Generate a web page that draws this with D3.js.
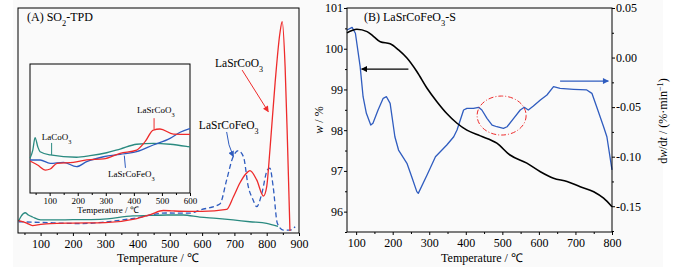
<!DOCTYPE html>
<html>
<head>
<meta charset="utf-8">
<script src="https://cdn.jsdelivr.net/npm/d3@7"></script>
<style>
  body { margin: 0; background: #fff; }
  svg { display: block; font-family: "Liberation Serif", "Times New Roman", serif; }
</style>
</head>
<body>
<svg id="chart" width="684" height="274"></svg>
<script>
// ---- (A) SO2-TPD, main plot (intensity in arbitrary units) ----
const tempRed = [32,57,75,100,130,200,300,390,440,480,510,560,600,676,697,717,735,748,769,790,800,810,826,841,848,857,865,872];
const intRed  = [5.5,4.4,3.3,3.8,4.2,4.4,4.6,6.2,8.2,10.0,9.8,9.6,9.6,10.5,16.1,22.2,26.2,27.7,23.6,16.4,20.6,36.9,66.7,88.9,93.9,73.9,36.9,0.9];

const tempBlue = [32,100,230,300,388,490,563,593,655,676,696,712,728,743,758,769,785,802,810,820,833,851,872,888];
const intBlue  = [5.0,4.7,4.2,4.9,6.5,8.9,8.8,10.2,12.9,23.6,33.9,36.6,33.9,20.6,14.7,11.7,17.6,28.0,28.8,20.6,4.3,1.3,1.3,2.8];

const tempTeal = [32,40,52,62,75,100,200,284,386,439,490,541,593,645,696,748,800,835];
const intTeal  = [5.3,7.5,9.0,8.0,7.1,5.8,5.9,6.1,7.6,7.8,8.0,8.0,7.1,6.5,5.8,5.0,4.3,2.9];

// ---- (A) inset, 30-600 C ----
const inTempTeal = [30,40,48,58,66,102,196,244,303,351,410,469,529,594,600];
const inIntTeal  = [26.9,33.3,42.9,35.7,32.0,29.5,27.7,28.9,31.2,34.1,37.8,38.5,37.8,35.9,35.7];
const inTempRed = [30,57,85,102,126,185,232,292,351,410,440,469,493,541,594,600];
const inIntRed  = [24.8,21.7,17.8,18.6,23.0,23.8,25.6,26.4,30.8,33.3,39.8,48.8,49.6,45.7,45.5,45.5];
const inTempBlue = [30,66,102,149,196,232,292,351,410,469,529,565,594,600];
const inIntBlue  = [25.6,25.6,23.0,23.8,20.4,24.3,28.1,30.0,32.0,37.2,42.4,47.1,49.6,50.0];

// ---- (B) LaSrCoFeO3-S TG / DTG ----
const tgTemp = [75,102,130,148,166,193,216,239,266,294,321,348,376,403,440,485,521,567,604,640,677,713,750,777,800];
const tgMass = [100.39,100.48,100.42,100.30,100.17,100.12,99.97,99.77,99.44,99.03,98.70,98.41,98.17,98.00,97.86,97.68,97.39,97.19,96.98,96.82,96.74,96.61,96.49,96.33,96.12];

const dtgTemp = [75,89,98,111,119,128,140,146,160,174,183,193,206,216,239,252,266,270,294,317,348,367,376,385,394,403,421,435,444,458,472,485,503,513,531,549,560,571,585,604,622,640,658,695,731,745,758,777,786,800];
const dtgRate = [0.0278,0.0305,0.0245,-0.0092,-0.0395,-0.0562,-0.0681,-0.0663,-0.0529,-0.0411,-0.0395,-0.0462,-0.0799,-0.0933,-0.1067,-0.1202,-0.1353,-0.1370,-0.1185,-0.1000,-0.0882,-0.0799,-0.0731,-0.0630,-0.0529,-0.0512,-0.0512,-0.0502,-0.0529,-0.0613,-0.0681,-0.0698,-0.0714,-0.0698,-0.0613,-0.0529,-0.0502,-0.0529,-0.0489,-0.0428,-0.0378,-0.0294,-0.0310,-0.0320,-0.0327,-0.0361,-0.0496,-0.0698,-0.0799,-0.1134];

// tick labels
const ticksA = [100,200,300,400,500,600,700,800,900];
const ticksInset = [100,200,300,400,500,600];
const ticksB = [100,200,300,400,500,600,700,800];
const ticksMass = [96,97,98,99,100,101];
const ticksRate = [-0.15,-0.10,-0.05,0.00,0.05];

const RED = "#ee2b2b", BLUE = "#2f5cbf", TEAL = "#2a8a80";

const svg = d3.select("#chart");
svg.append("rect").attr("x", 13).attr("y", 0).attr("width", 650).attr("height", 267).attr("fill", "#fafafa");

// arrow markers
const defs = svg.append("defs");
[["red", RED], ["blue", BLUE], ["black", "#000"]].forEach(([k, c]) => {
  defs.append("marker").attr("id", "arr-" + k)
    .attr("viewBox", "0 0 10 10").attr("refX", 9).attr("refY", 5)
    .attr("markerWidth", 7).attr("markerHeight", 6).attr("markerUnits", "userSpaceOnUse")
    .attr("orient", "auto")
    .append("path").attr("d", "M0,0L10,5L0,10z").attr("fill", c);
});

function rich(sel, parts) {
  parts.forEach(p => {
    const t = sel.append("tspan").text(p[0]);
    if (p[1] === "sub") t.attr("baseline-shift", "sub").attr("font-size", "70%");
    if (p[1] === "sup") t.attr("baseline-shift", "super").attr("font-size", "70%");
    if (p[1] === "i") t.attr("font-style", "italic");
  });
  return sel;
}

function series(g, xs, ys, T, V, color, dash, curve) {
  const line = d3.line().x(d => xs(d[0])).y(d => ys(d[1])).curve(curve || d3.curveMonotoneX);
  g.append("path").datum(d3.zip(T, V)).attr("d", line)
    .attr("fill", "none").attr("stroke", color).attr("stroke-width", 1.3)
    .attr("stroke-dasharray", dash || null).attr("stroke-linejoin", "round");
}

function xAxis(g, scale, y, major, minor, fs, pad) {
  const a = g.append("g").attr("transform", `translate(0,${y})`)
    .call(d3.axisBottom(scale).tickValues(major).tickSize(3).tickPadding(pad).tickFormat(d3.format("d")));
  a.select(".domain").remove();
  a.selectAll("text").attr("font-size", fs).attr("font-family", "Liberation Serif").attr("fill", "#000");
  const m = g.append("g").attr("transform", `translate(0,${y})`)
    .call(d3.axisBottom(scale).tickValues(minor).tickSize(2).tickFormat(""));
  m.select(".domain").remove();
}

// ================= Panel A =================
const xA = d3.scaleLinear().domain([30, 900]).range([18, 299]);
const yA = d3.scaleLinear().domain([0, 100]).range([233, 8]);
const gA = svg.append("g");

series(gA, xA, yA, tempTeal, intTeal, TEAL);
series(gA, xA, yA, tempBlue, intBlue, BLUE, "5,3");
series(gA, xA, yA, tempRed, intRed, RED);

gA.append("rect").attr("x", 18).attr("y", 8).attr("width", 281).attr("height", 225)
  .attr("fill", "none").attr("stroke", "#000").attr("stroke-width", 1);
xAxis(gA, xA, 233, ticksA, d3.range(50, 900, 100), 12, 3);
gA.append("text").attr("x", 158).attr("y", 262).attr("text-anchor", "middle").attr("font-size", 12)
  .text("Temperature / \u2103");
rich(gA.append("text").attr("x", 27).attr("y", 21).attr("font-size", 12),
  [["(A) SO"], ["2", "sub"], ["-TPD"]]);

// labels + arrows
rich(gA.append("text").attr("x", xA(640)).attr("y", yA(73.8)).attr("font-size", 11.5),
  [["LaSrCoO"], ["3", "sub"]]);
gA.append("line").attr("x1", xA(724)).attr("y1", yA(72.4)).attr("x2", xA(805)).attr("y2", yA(53.9))
  .attr("stroke", RED).attr("stroke-width", 1).attr("marker-end", "url(#arr-red)");
rich(gA.append("text").attr("x", xA(590)).attr("y", yA(46.2)).attr("font-size", 11.5),
  [["LaSrCoFeO"], ["3", "sub"]]);
gA.append("path")
  .attr("d", `M${xA(676)},${yA(44.9)}Q${xA(680)},${yA(39)} ${xA(697)},${yA(33.9)}`)
  .attr("fill", "none").attr("stroke", BLUE).attr("stroke-width", 1).attr("marker-end", "url(#arr-blue)");

// ---- inset ----
const xI = d3.scaleLinear().domain([30, 600]).range([30, 190]);
const yI = d3.scaleLinear().domain([0, 100]).range([193, 64]);
const gI = svg.append("g");
gI.append("rect").attr("x", 30).attr("y", 64).attr("width", 160).attr("height", 129)
  .attr("fill", "#fafafa").attr("stroke", "#000").attr("stroke-width", 1);
series(gI, xI, yI, inTempTeal, inIntTeal, TEAL);
series(gI, xI, yI, inTempBlue, inIntBlue, BLUE);
series(gI, xI, yI, inTempRed, inIntRed, RED);
xAxis(gI, xI, 193, ticksInset, d3.range(50, 600, 100), 9, 2);
gI.append("text").attr("x", 108).attr("y", 213).attr("text-anchor", "middle").attr("font-size", 9)
  .text("Temperature / \u2103");

rich(gI.append("text").attr("x", xI(411)).attr("y", yI(62)).attr("font-size", 9), [["LaSrCoO"], ["3", "sub"]]);
gI.append("line").attr("x1", xI(472)).attr("x2", xI(472)).attr("y1", yI(58)).attr("y2", yI(49.6))
  .attr("stroke", RED).attr("stroke-width", 1);
rich(gI.append("text").attr("x", xI(72)).attr("y", yI(41)).attr("font-size", 9), [["LaCoO"], ["3", "sub"]]);
gI.append("line").attr("x1", xI(107)).attr("x2", xI(107)).attr("y1", yI(38.8)).attr("y2", yI(29.5))
  .attr("stroke", TEAL).attr("stroke-width", 1);
rich(gI.append("text").attr("x", xI(308)).attr("y", yI(12.4)).attr("font-size", 9), [["LaSrCoFeO"], ["3", "sub"]]);
gI.append("line").attr("x1", xI(366)).attr("x2", xI(370)).attr("y1", yI(29)).attr("y2", yI(19.5))
  .attr("stroke", BLUE).attr("stroke-width", 1);

// ================= Panel B =================
const xB = d3.scaleLinear().domain([75, 800]).range([347, 612]);
const yL = d3.scaleLinear().domain([95.5, 101]).range([232, 8]);
const yR = d3.scaleLinear().domain([-0.176, 0.05]).range([232, 8]);
const gB = svg.append("g");

series(gB, xB, yR, dtgTemp, dtgRate, BLUE, null, d3.curveLinear);
series(gB, xB, yL, tgTemp, tgMass, "#000");
gB.select("path:last-of-type").attr("stroke-width", 1.6);

gB.append("rect").attr("x", 347).attr("y", 8).attr("width", 265).attr("height", 224)
  .attr("fill", "none").attr("stroke", "#000").attr("stroke-width", 1);
xAxis(gB, xB, 232, ticksB, d3.range(150, 800, 100), 12, 3);
gB.append("text").attr("x", 482).attr("y", 262).attr("text-anchor", "middle").attr("font-size", 12)
  .text("Temperature / \u2103");

const aL = gB.append("g").attr("transform", "translate(347,0)")
  .call(d3.axisLeft(yL).tickValues(ticksMass).tickSize(3).tickPadding(1).tickFormat(d3.format("d")));
aL.select(".domain").remove();
aL.selectAll("text").attr("font-size", 12).attr("font-family", "Liberation Serif");
gB.append("g").attr("transform", "translate(347,0)")
  .call(d3.axisLeft(yL).tickValues(d3.range(95.5, 101, 1)).tickSize(2).tickFormat(""))
  .select(".domain").remove();

const aR = gB.append("g").attr("transform", "translate(612,0)")
  .call(d3.axisRight(yR).tickValues(ticksRate).tickSize(3).tickPadding(1)
    .tickFormat(d => d3.format(".2f")(d).replace("\u2212", "-")));
aR.select(".domain").remove();
aR.selectAll("text").attr("font-size", 12).attr("font-family", "Liberation Serif");
gB.append("g").attr("transform", "translate(612,0)")
  .call(d3.axisRight(yR).tickValues([-0.175, -0.125, -0.075, -0.025, 0.025]).tickSize(2).tickFormat(""))
  .select(".domain").remove();

rich(gB.append("text").attr("transform", "translate(323,120) rotate(-90)").attr("text-anchor", "middle").attr("font-size", 12),
  [["w", "i"], [" / %"]]);
rich(gB.append("text").attr("transform", "translate(667,121) rotate(-90)").attr("text-anchor", "middle").attr("font-size", 12),
  [["d"], ["w", "i"], ["/d"], ["t", "i"], [" / (%\u00b7min"], ["\u22121", "sup"], [")"]]);

rich(gB.append("text").attr("x", 364).attr("y", 21).attr("font-size", 12),
  [["(B) LaSrCoFeO"], ["3", "sub"], ["-S"]]);

// annotations
gB.append("line").attr("x1", xB(243)).attr("x2", xB(115)).attr("y1", yL(99.5)).attr("y2", yL(99.5))
  .attr("stroke", "#000").attr("stroke-width", 1.2).attr("marker-end", "url(#arr-black)");
gB.append("line").attr("x1", xB(658)).attr("x2", xB(790)).attr("y1", yR(-0.0237)).attr("y2", yR(-0.0237))
  .attr("stroke", BLUE).attr("stroke-width", 1.2).attr("marker-end", "url(#arr-blue)");
gB.append("ellipse").attr("cx", xB(498)).attr("cy", yR(-0.0585)).attr("rx", 24.5).attr("ry", 19.5)
  .attr("fill", "none").attr("stroke", RED).attr("stroke-width", 1)
  .attr("stroke-dasharray", "5,2,1,2");

svg.selectAll(".tick line").attr("stroke", "#000");
svg.selectAll(".tick text").attr("fill", "#000");
</script>
</body>
</html>
